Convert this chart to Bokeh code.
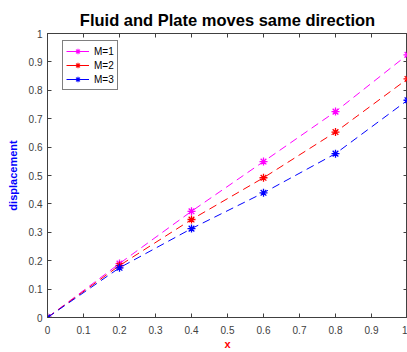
from bokeh.plotting import figure
from bokeh.models import LinearAxis, FixedTicker, Range1d, Legend, LegendItem, CustomLabelingPolicy
from bokeh.embed import file_html
from bokeh.resources import INLINE

x = [0, 0.2, 0.4, 0.6, 0.8, 1.0]
m1 = [0, 0.190, 0.374, 0.549, 0.725, 0.925]
m2 = [0, 0.183, 0.345, 0.492, 0.653, 0.840]
m3 = [0, 0.175, 0.313, 0.439, 0.577, 0.765]
labels = ["M=1", "M=2", "M=3"]
colors = ["#ff00ff", "#ff0000", "#0000ff"]
ticks = [0, 0.1, 0.2, 0.3, 0.4, 0.5, 0.6, 0.7, 0.8, 0.9, 1.0]

FONT = "Liberation Sans"
AX = "#404040"
NAN = float("nan")

p = figure(width=407, height=352, output_backend="svg", toolbar_location=None,
           x_range=Range1d(0, 1), y_range=Range1d(0, 1),
           min_border_left=47, min_border_right=0, min_border_top=33, min_border_bottom=34,
           x_axis_label="x", y_axis_label="displacement")
p.title.text = "Fluid and Plate moves same direction"
p.title.align = "center"
p.title.text_font = FONT
p.title.text_font_size = "16.5px"
p.title.text_font_style = "bold"
p.title.text_color = "#000000"
p.grid.visible = False
p.outline_line_color = AX
p.outline_line_alpha = 1

for ax in p.xaxis + p.yaxis:
    ax.ticker = FixedTicker(ticks=ticks)
    ax.major_tick_in = 4
    ax.major_tick_out = 0
    ax.minor_tick_line_color = None
    ax.axis_line_color = AX
    ax.major_tick_line_color = AX
    ax.major_label_text_font = FONT
    ax.major_label_text_font_size = "10px"
    ax.major_label_text_color = AX
    ax.axis_label_text_font = FONT
    ax.axis_label_text_font_size = "11px"
    ax.axis_label_text_font_style = "bold"
p.xaxis.major_label_standoff = 8
p.yaxis.major_label_standoff = 5
p.xaxis.axis_label_text_color = "#ff0000"
p.yaxis.axis_label_text_color = "#0000ff"
p.xaxis.axis_label_standoff = 1
p.yaxis.axis_label_standoff = 7

# tick marks only on top and right (MATLAB box), no labels there
for loc in ("above", "right"):
    ax = LinearAxis(
        ticker=FixedTicker(ticks=ticks),
        major_label_policy=CustomLabelingPolicy(code="for (const i of indices) indices.unset(i)"),
    )
    ax.major_tick_in = 4
    ax.major_tick_out = 0
    ax.minor_tick_line_color = None
    ax.axis_line_color = AX
    ax.major_tick_line_color = AX
    ax.major_label_text_font_size = "0px"
    ax.major_label_standoff = 0
    p.add_layout(ax, loc)

items = []
for ys, lab, c in zip([m1, m2, m3], labels, colors):
    p.line(x, ys, line_color=c, line_width=1, line_dash="8 5")
    p.scatter(x, ys, marker="asterisk", size=8, line_color=c, line_width=1.3)
    # solid-line legend glyphs (MATLAB legend shows a short solid line)
    l_leg = p.line([NAN], [NAN], line_color=c, line_width=1)
    s_leg = p.scatter([NAN], [NAN], marker="asterisk", size=7, line_color=c, line_width=1.1)
    items.append(LegendItem(label=lab, renderers=[l_leg, s_leg]))

leg = Legend(items=items, location=(15, 227))
leg.label_text_font = FONT
leg.label_text_font_size = "10px"
leg.label_text_color = "#000000"
leg.border_line_color = "#000000"
leg.border_line_width = 1
leg.glyph_width = 23
leg.glyph_height = 14
leg.label_height = 14
leg.spacing = 0
leg.padding = 3
leg.margin = 0
leg.label_standoff = 5
p.add_layout(leg)

open("out.html", "w").write(file_html(p, INLINE))
